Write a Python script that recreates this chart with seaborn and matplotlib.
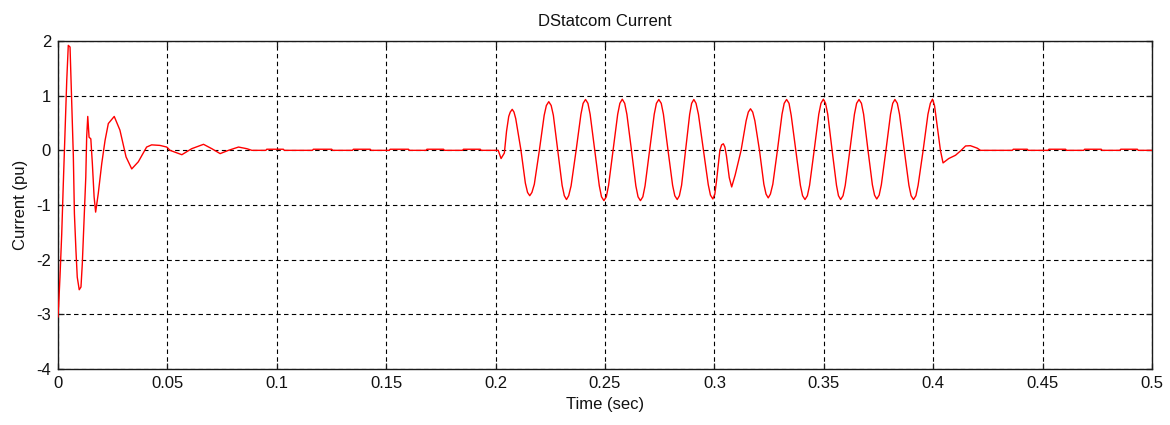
import numpy as np
import pandas as pd
import matplotlib
matplotlib.use("Agg")
import matplotlib.pyplot as plt
from matplotlib.ticker import FuncFormatter
import seaborn as sns

# Start-up transient of the compensator current (sec, pu)
startup_t = [0.0000, 0.0004, 0.0009, 0.0017, 0.0024, 0.0032, 0.0040, 0.0047, 0.0055,
             0.0063, 0.0070, 0.0075, 0.0082, 0.0088, 0.0097, 0.0105, 0.0111, 0.0119,
             0.0127, 0.0131, 0.0136, 0.0142, 0.0150, 0.0157, 0.0165, 0.0172, 0.0184,
             0.0200, 0.0215, 0.0230, 0.0257, 0.0283, 0.0311, 0.0337, 0.0367, 0.0405,
             0.0428, 0.0466, 0.0497, 0.0512, 0.0566, 0.0611, 0.0665, 0.0703, 0.0741,
             0.0779, 0.0825, 0.0863, 0.0886]
startup_i = [-3.05, -2.75, -2.32, -1.53, -0.64, 0.31, 1.28, 1.92, 1.89,
             0.86, -0.09, -1.16, -1.83, -2.32, -2.55, -2.50, -2.08, -1.28,
             -0.49, 0.24, 0.62, 0.24, 0.21, -0.24, -0.85, -1.13, -0.79,
             -0.24, 0.18, 0.49, 0.62, 0.37, -0.12, -0.34, -0.21, 0.06,
             0.10, 0.09, 0.06, 0.00, -0.08, 0.03, 0.11, 0.03, -0.06,
             0.00, 0.06, 0.03, 0.00]

# Small steady-state ripple steps (start, end) in sec and their height in pu
ripple_starts = [0.0954, 0.1167, 0.1350, 0.1518, 0.1686, 0.1853,
                 0.4366, 0.4529, 0.4692, 0.4857]
ripple_ends = [0.1030, 0.1251, 0.1427, 0.1602, 0.1762, 0.1930,
               0.4430, 0.4605, 0.4768, 0.4933]
ripple_height = 0.02

# Compensation interval 0.2 s - 0.42 s (sec, pu)
comp_t = [0.2000, 0.2012, 0.2025, 0.2040, 0.2050, 0.2060, 0.2067, 0.2076, 0.2084, 0.2092,
          0.2116, 0.2136, 0.2146, 0.2156, 0.2166, 0.2177,
          0.2200, 0.2222, 0.2232, 0.2243, 0.2254, 0.2264,
          0.2284, 0.2304, 0.2314, 0.2324, 0.2334, 0.2345,
          0.2368, 0.2390, 0.2400, 0.2411, 0.2422, 0.2432,
          0.2453, 0.2474, 0.2484, 0.2495, 0.2506, 0.2516,
          0.2537, 0.2558, 0.2568, 0.2579, 0.2590, 0.2600,
          0.2621, 0.2641, 0.2651, 0.2662, 0.2673, 0.2683,
          0.2704, 0.2725, 0.2735, 0.2746, 0.2757, 0.2767,
          0.2788, 0.2809, 0.2819, 0.2830, 0.2840, 0.2850,
          0.2868, 0.2887, 0.2896, 0.2906, 0.2916, 0.2927,
          0.2950, 0.2972, 0.2982, 0.2993, 0.3002, 0.3010,
          0.3025, 0.3033, 0.3041, 0.3048, 0.3055, 0.3068, 0.3079, 0.3095,
          0.3122, 0.3145, 0.3155, 0.3165, 0.3175, 0.3185,
          0.3206, 0.3226, 0.3236, 0.3246, 0.3256, 0.3267,
          0.3288, 0.3309, 0.3319, 0.3330, 0.3341, 0.3351,
          0.3372, 0.3393, 0.3403, 0.3414, 0.3425, 0.3435,
          0.3456, 0.3477, 0.3487, 0.3498, 0.3508, 0.3518,
          0.3538, 0.3558, 0.3567, 0.3577, 0.3588, 0.3598,
          0.3619, 0.3640, 0.3650, 0.3661, 0.3672, 0.3682,
          0.3702, 0.3722, 0.3732, 0.3742, 0.3753, 0.3763,
          0.3784, 0.3805, 0.3815, 0.3825, 0.3836, 0.3846,
          0.3868, 0.3889, 0.3899, 0.3910, 0.3921, 0.3931,
          0.3954, 0.3976, 0.3987, 0.3997, 0.4006, 0.4015,
          0.4033, 0.4045, 0.4071, 0.4102, 0.4125, 0.4148, 0.4170, 0.4201, 0.4216]
comp_i = [0.00, 0.00, -0.15, -0.05, 0.35, 0.62, 0.70, 0.75, 0.70, 0.58,
          0.00, -0.60, -0.77, -0.83, -0.77, -0.62,
          0.00, 0.64, 0.82, 0.89, 0.82, 0.64,
          0.00, -0.64, -0.83, -0.90, -0.83, -0.65,
          0.00, 0.66, 0.86, 0.93, 0.86, 0.66,
          0.00, -0.65, -0.85, -0.92, -0.85, -0.65,
          0.00, 0.66, 0.86, 0.935, 0.86, 0.66,
          0.00, -0.65, -0.85, -0.92, -0.85, -0.65,
          0.00, 0.66, 0.86, 0.93, 0.86, 0.66,
          0.00, -0.64, -0.83, -0.90, -0.83, -0.64,
          0.00, 0.66, 0.86, 0.93, 0.86, 0.66,
          0.00, -0.63, -0.82, -0.89, -0.80, -0.55,
          0.00, 0.10, 0.12, 0.06, -0.10, -0.50, -0.67, -0.45,
          0.00, 0.54, 0.70, 0.76, 0.70, 0.54,
          0.00, -0.62, -0.80, -0.87, -0.80, -0.62,
          0.00, 0.66, 0.86, 0.93, 0.86, 0.64,
          0.00, -0.64, -0.83, -0.90, -0.83, -0.64,
          0.00, 0.66, 0.86, 0.935, 0.86, 0.66,
          0.00, -0.64, -0.83, -0.90, -0.83, -0.64,
          0.00, 0.66, 0.86, 0.93, 0.86, 0.66,
          0.00, -0.63, -0.82, -0.89, -0.82, -0.63,
          0.00, 0.66, 0.86, 0.93, 0.86, 0.66,
          0.00, -0.64, -0.83, -0.90, -0.83, -0.64,
          0.00, 0.66, 0.86, 0.935, 0.82, 0.55,
          0.00, -0.23, -0.15, -0.09, -0.01, 0.08, 0.085, 0.04, 0.00]

end_t = [0.5000]
end_i = [0.00]

x_ticks = [0, 0.05, 0.1, 0.15, 0.2, 0.25, 0.3, 0.35, 0.4, 0.45, 0.5]
y_ticks = [-4, -3, -2, -1, 0, 1, 2]

# Assemble one continuous trace
t_all = list(startup_t)
i_all = list(startup_i)
steps = sorted(zip(ripple_starts, ripple_ends))
for s, e in steps:
    if s < comp_t[0]:
        t_all += [s - 0.0004, s, e, e + 0.0004]
        i_all += [0.0, ripple_height, ripple_height, 0.0]
t_all += comp_t
i_all += comp_i
for s, e in steps:
    if s > comp_t[-1]:
        t_all += [s - 0.0004, s, e, e + 0.0004]
        i_all += [0.0, ripple_height, ripple_height, 0.0]
t_all += end_t
i_all += end_i

df = pd.DataFrame({"Time (sec)": t_all, "Current (pu)": i_all})

sns.set_theme(style="white")
plt.rcParams["font.family"] = ["Liberation Sans", "DejaVu Sans"]
plt.rcParams["axes.unicode_minus"] = False

fig = plt.figure(figsize=(11.7, 4.25), dpi=100, facecolor="white")
ax = fig.add_axes([58 / 1170, 1 - 369 / 425, (1152 - 58) / 1170, (369 - 41) / 425])
ax.set_facecolor("white")

sns.lineplot(data=df, x="Time (sec)", y="Current (pu)", ax=ax, color="#ff0000",
             linewidth=1.0, estimator=None, sort=False, zorder=3)

ax.set_xlim(0, 0.5)
ax.set_ylim(-4, 2)
ax.set_xticks(x_ticks)
ax.set_yticks(y_ticks)
ax.xaxis.set_major_formatter(FuncFormatter(lambda v, p: f"{v:g}"))
ax.yaxis.set_major_formatter(FuncFormatter(lambda v, p: f"{v:g}"))

ax.grid(True, color="black", linestyle=(0, (4, 3)), linewidth=0.8, zorder=1)
ax.set_axisbelow(True)
for sp in ax.spines.values():
    sp.set_visible(True)
    sp.set_color("#1a1a1a")
    sp.set_linewidth(1.0)

ax.tick_params(axis="both", which="major", direction="in", length=4.5, width=0.9,
               color="#1a1a1a", top=True, right=True, bottom=True, left=True,
               labelsize=12, labelcolor="#111111", pad=5)

ax.set_title("DStatcom Current", fontsize=12, color="#111111", pad=11)
ax.set_xlabel("Time (sec)", fontsize=12, color="#111111", labelpad=4)
ax.set_ylabel("Current (pu)", fontsize=12, color="#111111", labelpad=6)

fig.savefig("out.png", dpi=100, facecolor="white")
